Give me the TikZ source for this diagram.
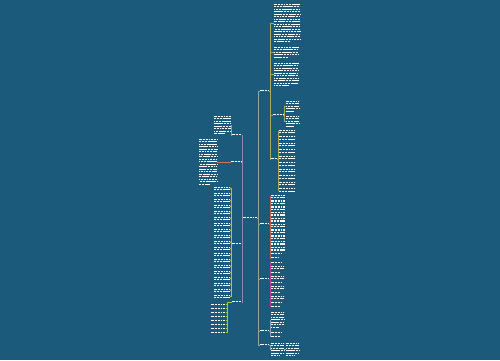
\documentclass[tikz,border=0pt]{standalone}
\definecolor{bg}{HTML}{1B5A7A}
\definecolor{ctR}{HTML}{8FA7A0}
\definecolor{ctL}{HTML}{8A88B0}
\definecolor{cA}{HTML}{A8A860}
\definecolor{cB}{HTML}{C8604A}
\definecolor{cC}{HTML}{C03C9C}
\definecolor{cD}{HTML}{8AA0B0}
\definecolor{cE}{HTML}{C87848}
\definecolor{cF}{HTML}{C8B840}
\definecolor{cG}{HTML}{A8C840}
\tikzset{
  box/.style={inner sep=0pt, outer sep=0pt},
  txt/.style={draw=white, line width=1.4pt,
    dash pattern=on 1.2pt off 0.3pt on 1.2pt off 0.3pt on 1.2pt off 0.6pt on 1.2pt off 0.3pt on 1.2pt off 0.3pt},
  con/.style={line width=0.5pt}
}
\newcommand\tx[5]{%
  \node[box, minimum width=#4pt, minimum height={#5*2.5pt}, anchor=north west] (#1) at (#2,#3) {};
  \foreach \k in {1,...,#5}{%
    \pgfmathsetmacro\ww{(\k==#5 && #5>2) ? #4*0.6 : #4}%
    \draw[txt, dash phase={\k*1.1pt}] (#2,{#3+(\k-1)*2.5+1.25}) -- ++(\ww,0);}%
}
\begin{document}
\begin{tikzpicture}[x=1pt,y=-1pt]
\fill[bg] (0,0) rectangle (500,360);
\useasboundingbox (0,0) rectangle (500,360);

% root and main branches
\tx{root}{243}{216.5}{14}{1}
\tx{R1}{259.5}{89.5}{9}{1}
\tx{R2}{259.5}{222.5}{9}{1}
\tx{R3}{259.5}{277.5}{9}{1}
\tx{R4}{259.5}{329.5}{9}{1}
\tx{R5}{259.5}{343.5}{9}{1}
\tx{L1}{232}{133.5}{9.5}{1}
\tx{L2}{231}{160.5}{10}{1}
\tx{L3}{232}{242.5}{9.5}{1}
\tx{L4}{232}{300.5}{9.5}{1}

\foreach \n in {R1,R2,R3,R4,R5}
  \draw[con,ctR] (root.east) -- ++(1.5,0) |- (\n.west);
\foreach \n in {L1,L2,L3,L4}
  \draw[con,ctL] (root.west) -- ++(-1,0) |- (\n.east);

% R1 subtree
\tx{r1a}{274}{3}{26}{16}
\tx{r1b}{274}{46}{24}{5}
\tx{r1c}{274}{62}{24}{10}
\tx{r1d}{273}{113.5}{10}{1}
\tx{r1e}{271}{157.5}{6}{1}
\foreach \n in {r1a,r1b,r1c,r1d,r1e}
  \draw[con,cA] (R1.east) -- ++(1.3,0) |- (\n.west);
\tx{r1d1}{286}{100}{13}{5}
\tx{r1d2}{286}{115}{13}{5}
\foreach \n in {r1d1,r1d2}
  \draw[con,cA] (r1d.east) -- ++(1,0) |- (\n.west);
\foreach \i in {0,...,9}{
  \tx{r1e\i}{279}{129+\i*6.5}{16}{2}
  \draw[con,cA] (r1e.east) -- ++(1,0) |- (r1e\i.west);
}

% R2 subtree
\foreach \i in {0,...,9}{
  \tx{r2\i}{271}{194+\i*5.8}{14}{2}
  \draw[con,cB] (R2.east) -- ++(1.3,0) |- (r2\i.west);
}
\tx{r2x}{271}{252.5}{10}{1}
\tx{r2y}{271}{256.5}{8}{1}
\foreach \n in {r2x,r2y}
  \draw[con,cB] (R2.east) -- ++(1.3,0) |- (\n.west);

% R3 subtree
\foreach \y/\l/\w [count=\j] in {261/1/10,265/2/13,271/1/9,275/2/13,281/1/10,285/2/13,291/1/9,295/2/13,301/1/11,305/1/9}{
  \tx{r3\j}{271}{\y}{\w}{\l}
  \draw[con,cC] (R3.east) -- ++(1.3,0) |- (r3\j.west);
}

% R4 subtree
\tx{r4a}{271}{311}{13}{7}
\tx{r4b}{271}{331}{11}{1}
\tx{r4c}{271}{335}{9}{1}
\foreach \n in {r4a,r4b,r4c}
  \draw[con,cD] (R4.east) -- ++(1.3,0) |- (\n.west);

% R5 subtree
\tx{r5a}{271}{342}{13}{6}
\tx{r5b}{286}{342}{13}{6}
\draw[con,cD] (R5.east) -- ++(1.3,0) |- (r5a.west);
\draw[con,cD] (r5a.east) -- (r5b.west);

% L1, L2
\tx{l1a}{214}{115}{17}{8}
\draw[con,cD] (L1.west) -- ++(-0.8,0) |- (l1a.east);
\tx{l2a}{199}{138}{18}{19}
\draw[con,cE] (L2.west) -- (l2a.east);

% L3 list
\foreach \i in {0,...,18}{
  \tx{l3\i}{214}{186+\i*6}{16}{2}
  \draw[con,cF] (L3.west) -- ++(-1,0) |- (l3\i.east);
}

% L4 list
\foreach \i in {0,...,7}{
  \tx{l4\i}{211}{303+\i*4}{14.5}{1}
  \draw[con,cG] (L4.west) -- ++(-5,0) |- (l4\i.east);
}
\end{tikzpicture}
\end{document}
